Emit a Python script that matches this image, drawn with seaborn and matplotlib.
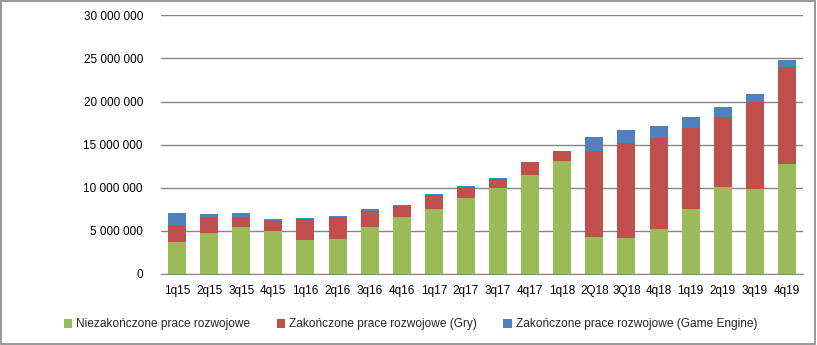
import matplotlib
matplotlib.use("Agg")
import matplotlib.pyplot as plt
from matplotlib.patches import Patch, Rectangle
from matplotlib.ticker import FuncFormatter
import seaborn as sns
import pandas as pd
import numpy as np

quarters = ["1q15", "2q15", "3q15", "4q15", "1q16", "2q16", "3q16", "4q16", "1q17", "2q17",
            "3q17", "4q17", "1q18", "2Q18", "3Q18", "4q18", "1q19", "2q19", "3q19", "4q19"]
niezakonczone = [3.67, 4.72, 5.42, 4.95, 3.99, 4.10, 5.42, 6.58, 7.51, 8.79,
                 9.92, 11.43, 13.10, 4.26, 4.14, 5.19, 7.51, 10.07, 9.84, 12.70]
gry = [2.06, 1.86, 1.24, 1.17, 2.36, 2.48, 1.94, 1.25, 1.63, 1.28,
       1.13, 1.55, 1.16, 10.00, 11.05, 10.54, 9.39, 8.13, 10.11, 11.29]
engine = [1.40, 0.35, 0.39, 0.23, 0.12, 0.12, 0.15, 0.15, 0.12, 0.12,
          0.07, 0.02, 0.02, 1.62, 1.51, 1.43, 1.30, 1.17, 0.90, 0.81]
series_names = ["Niezakończone prace rozwojowe",
                "Zakończone prace rozwojowe (Gry)",
                "Zakończone prace rozwojowe (Game Engine)"]
colors = ["#9BBB59", "#C0504D", "#4F81BD"]

sns.set_style("white")
plt.rcParams["font.family"] = ["Liberation Sans", "DejaVu Sans"]

scale = 1_000_000
g = np.array(niezakonczone) * scale
r = g + np.array(gry) * scale
b = r + np.array(engine) * scale

df = pd.DataFrame({"q": quarters, "g": g, "r": r, "b": b})

fig = plt.figure(figsize=(8.17, 3.45), dpi=100)
ax = fig.add_axes([161 / 817, 1 - 274 / 345, (803 - 161) / 817, (274 - 15.3) / 345])

for col, c in zip(["b", "r", "g"], [colors[2], colors[1], colors[0]]):
    sns.barplot(data=df, x="q", y=col, color=c, width=0.56, errorbar=None,
                saturation=1, ax=ax, zorder=3, linewidth=0)

ax.set_ylim(0, 30_000_000)
ax.set_xlim(-0.5, len(quarters) - 0.5)
ax.set_yticks(np.arange(0, 30_000_001, 5_000_000))
ax.yaxis.set_major_formatter(FuncFormatter(lambda v, p: f"{int(v):,}".replace(",", " ")))
ax.grid(axis="y", color="#868686", linewidth=1, zorder=0)
ax.set_axisbelow(True)
for s in ["top", "right", "left"]:
    ax.spines[s].set_visible(False)
ax.spines["bottom"].set_color("#868686")
ax.set_xlabel("")
ax.set_ylabel("")
ax.tick_params(axis="y", length=0, pad=13, labelsize=8.5, colors="black")
ax.tick_params(axis="x", length=0, pad=8, labelsize=8.5, colors="black")

handles = [Patch(facecolor=c, edgecolor="none") for c in colors]
fig.legend(handles, series_names, loc="center", bbox_to_anchor=(410.5 / 817, 1 - 324.5 / 345),
           ncol=3, frameon=False, fontsize=8.6, handlelength=0.7, handleheight=0.75,
           handletextpad=0.35, columnspacing=2.2)

fig.patches.append(Rectangle((0.001, 0.002), 0.997, 0.995, transform=fig.transFigure,
                             fill=False, edgecolor="#868686", linewidth=1.2))

fig.savefig("out.png", dpi=100)
